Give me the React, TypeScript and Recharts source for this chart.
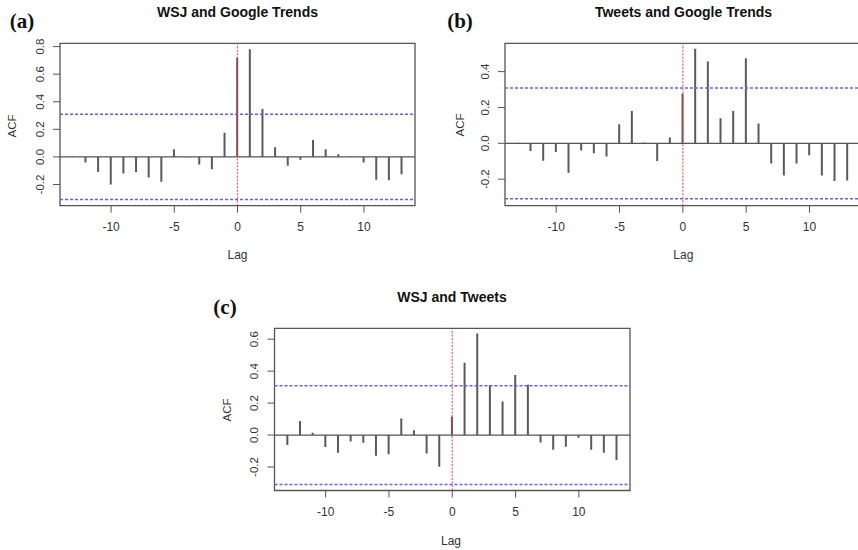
import React from "react";
import {
  ComposedChart,
  Bar,
  XAxis,
  YAxis,
  ReferenceLine,
  ReferenceArea,
} from "recharts";

const lags = [-13, -12, -11, -10, -9, -8, -7, -6, -5, -4, -3, -2, -1, 0, 1, 2, 3, 4, 5, 6, 7, 8, 9, 10, 11, 12, 13];

const acfWsjGoogle = [
  0.003, -0.04, -0.11, -0.2, -0.12, -0.11, -0.15, -0.18, 0.055, -0.005, -0.055, -0.09, 0.176,
  0.72, 0.78, 0.347, 0.07, -0.065, -0.02, 0.123, 0.055, 0.02, 0.002, -0.04, -0.165, -0.17, -0.125,
];
const acfTweetsGoogle = [
  0.003, -0.043, -0.097, -0.048, -0.164, -0.04, -0.056, -0.074, 0.106, 0.18, 0.005, -0.099, 0.032,
  0.277, 0.527, 0.456, 0.14, 0.18, 0.474, 0.11, -0.112, -0.179, -0.112, -0.067, -0.179, -0.21, -0.207,
];
const acfWsjTweets = [
  -0.0625, 0.0875, 0.015, -0.075, -0.11, -0.04, -0.048, -0.13, -0.12, 0.104, 0.03, -0.115, -0.198,
  0.115, 0.452, 0.635, 0.313, 0.21, 0.375, 0.315, -0.046, -0.092, -0.073, -0.017, -0.092, -0.11, -0.156,
];

const xTicks = [-10, -5, 0, 5, 10];
const yTicksA = [-0.2, 0, 0.2, 0.4, 0.6, 0.8];
const yTicksB = [-0.2, 0, 0.2, 0.4];
const yTicksC = [-0.2, 0, 0.2, 0.4, 0.6];
const ciBound = 0.309;
const xDomain: [number, number] = [-14.04, 14.04];

const FONT = '"Liberation Sans", Arial, Helvetica, sans-serif';
const TICK_COLOR = "#333";

const YTick = (props: any) => {
  const { x, y, payload } = props;
  return (
    <text
      x={x}
      y={y}
      dy={-9}
      transform={`rotate(-90 ${x} ${y})`}
      textAnchor="middle"
      fontSize={11.5}
      fill={TICK_COLOR}
      fontFamily={FONT}
    >
      {Number(payload.value).toFixed(1)}
    </text>
  );
};

type PanelProps = {
  values: number[];
  yDomain: [number, number];
  yTicks: number[];
  pos: { left: number; top: number };
  box: { left: number; right: number; top: number; bottom: number };
};

const CW = 430;
const CH = 240;

const Panel = ({ values, yDomain, yTicks, pos, box }: PanelProps) => {
  const data = lags.map((lag, i) => ({ lag, acf: values[i] }));
  const yAxisW = 50;
  const xAxisH = 30;
  const bl = box.left - pos.left;
  const br = box.right - pos.left;
  const bt = box.top - pos.top;
  const bb = box.bottom - pos.top;
  return (
    <div style={{ position: "absolute", left: pos.left, top: pos.top, width: CW, height: CH }}>
      <ComposedChart
        width={CW}
        height={CH}
        data={data}
        margin={{
          left: bl - yAxisW,
          right: CW - br,
          top: bt,
          bottom: CH - bb - xAxisH,
        }}
      >
        <XAxis
          dataKey="lag"
          type="number"
          domain={xDomain}
          allowDataOverflow
          ticks={xTicks}
          interval={0}
          height={xAxisH}
          tickSize={7}
          tickMargin={10}
          axisLine={false}
          tickLine={{ stroke: "#555" }}
          tick={{ fontSize: 12, fill: TICK_COLOR, fontFamily: FONT }}
        />
        <YAxis
          type="number"
          domain={yDomain}
          allowDataOverflow
          ticks={yTicks}
          interval={0}
          width={yAxisW}
          tickSize={7}
          tickMargin={0}
          axisLine={false}
          tickLine={{ stroke: "#555" }}
          tick={<YTick />}
        />
        <ReferenceArea
          x1={xDomain[0]}
          x2={xDomain[1]}
          y1={yDomain[0]}
          y2={yDomain[1]}
          fill="none"
          fillOpacity={0}
          stroke="#555"
          strokeWidth={1.3}
          ifOverflow="visible"
        />
        <ReferenceLine y={0} stroke="#555" strokeWidth={1.3} />
        <ReferenceLine y={ciBound} stroke="#6060ff" strokeWidth={1.5} strokeDasharray="3 2" />
        <ReferenceLine y={-ciBound} stroke="#6060ff" strokeWidth={1.5} strokeDasharray="3 2" />
        <Bar dataKey="acf" barSize={2} fill="#5a5a5a" isAnimationActive={false} />
        <ReferenceLine x={0} stroke="#ff3030" strokeWidth={1.2} strokeDasharray="2 1.5" strokeOpacity={0.8} />
      </ComposedChart>
    </div>
  );
};

const Txt = ({
  x,
  y,
  children,
  size = 11.5,
  bold = false,
  serif = false,
  rotate = false,
  color = "#333",
}: any) => (
  <div
    style={{
      position: "absolute",
      left: x,
      top: y,
      transform: `translate(-50%, -50%)${rotate ? " rotate(-90deg)" : ""}`,
      fontSize: size,
      fontWeight: bold ? 700 : 400,
      fontFamily: serif ? '"Liberation Serif", "Times New Roman", serif' : FONT,
      color,
      whiteSpace: "nowrap",
      lineHeight: 1,
    }}
  >
    {children}
  </div>
);

export default function App() {
  return (
    <div
      style={{
        position: "absolute",
        left: 0,
        top: 0,
        width: 858,
        height: 550,
        overflow: "hidden",
        background: "#fff",
      }}
    >
      <Panel
        values={acfWsjGoogle}
        yDomain={[-0.354, 0.824]}
        yTicks={yTicksA}
        pos={{ left: 0, top: 20 }}
        box={{ left: 60, right: 415, top: 43.3, bottom: 205.7 }}
      />
      <Panel
        values={acfTweetsGoogle}
        yDomain={[-0.348, 0.558]}
        yTicks={yTicksB}
        pos={{ left: 440, top: 20 }}
        box={{ left: 505, right: 860.7, top: 43.3, bottom: 205.7 }}
      />
      <Panel
        values={acfWsjTweets}
        yDomain={[-0.347, 0.668]}
        yTicks={yTicksC}
        pos={{ left: 210, top: 305 }}
        box={{ left: 274.5, right: 630, top: 328.3, bottom: 490.5 }}
      />

      <Txt x={22} y={21} size={21} bold serif color="#111">(a)</Txt>
      <Txt x={237.5} y={12} size={14} bold color="#111">WSJ and Google Trends</Txt>
      <Txt x={12.5} y={126} rotate>ACF</Txt>
      <Txt x={237.5} y={255} size={12}>Lag</Txt>

      <Txt x={460} y={21} size={21} bold serif color="#111">(b)</Txt>
      <Txt x={683.5} y={12} size={14} bold color="#111">Tweets and Google Trends</Txt>
      <Txt x={460.7} y={125} rotate>ACF</Txt>
      <Txt x={683.3} y={255} size={12}>Lag</Txt>

      <Txt x={225} y={307} size={21} bold serif color="#111">(c)</Txt>
      <Txt x={452} y={297} size={14} bold color="#111">WSJ and Tweets</Txt>
      <Txt x={228.3} y={410} rotate>ACF</Txt>
      <Txt x={451} y={541} size={12}>Lag</Txt>
    </div>
  );
}
